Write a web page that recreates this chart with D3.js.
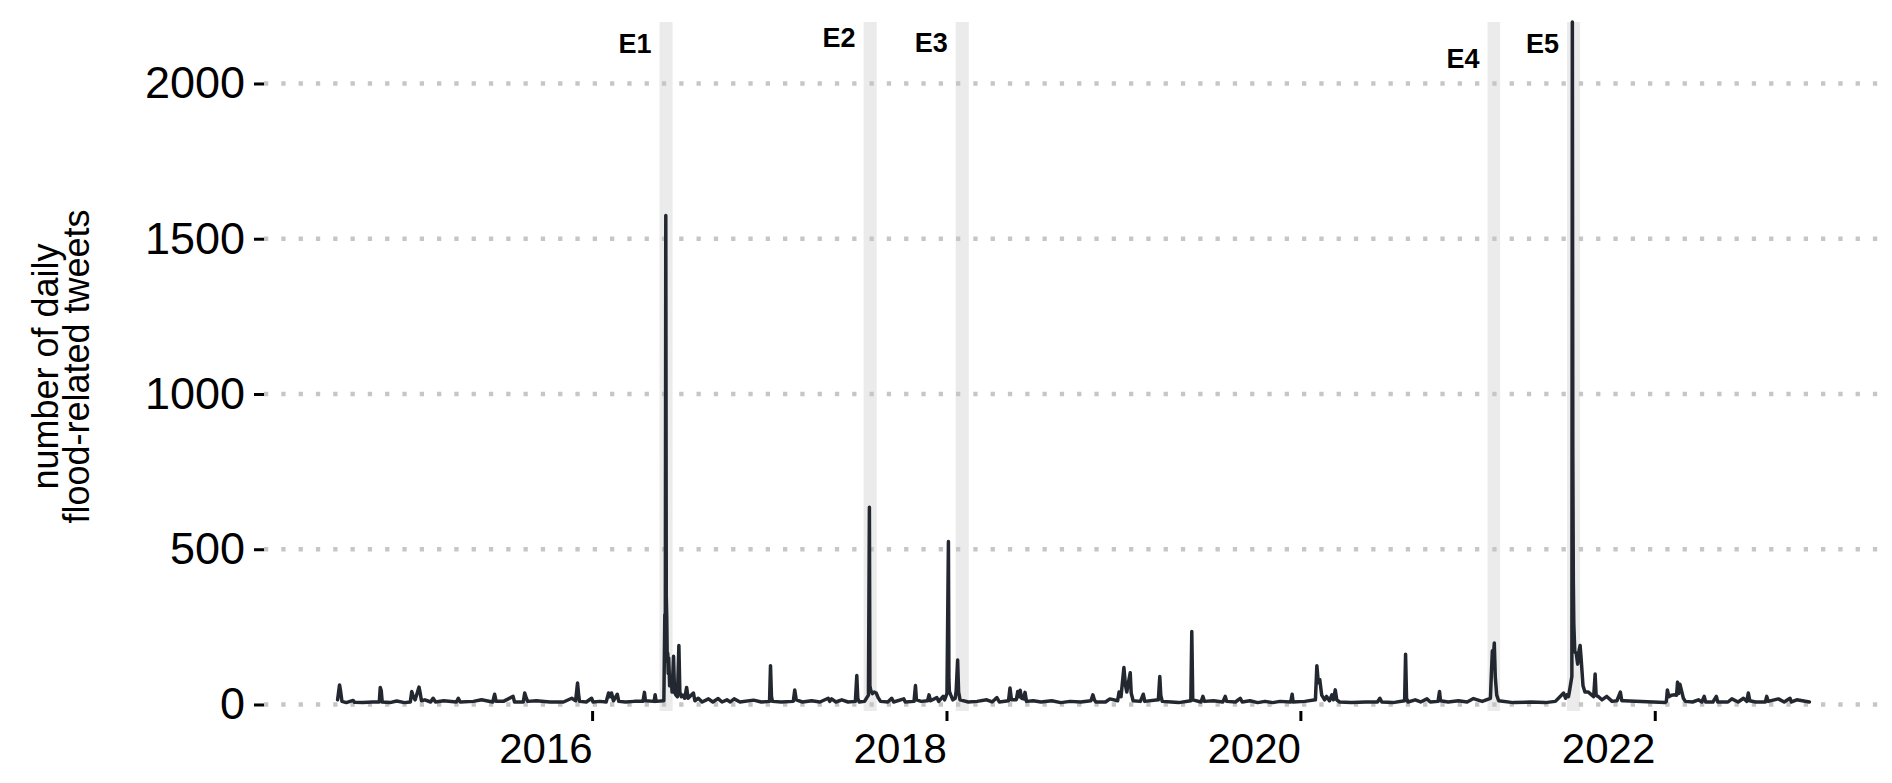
<!DOCTYPE html>
<html lang="en">
<head>
<meta charset="UTF-8">
<title>Daily flood-related tweets</title>
<script src="https://d3js.org/d3.v7.min.js"></script>
<style>
  body { margin: 0; background: #fff; }
  svg { display: block; font-family: 'Liberation Sans', Arial, sans-serif; }
</style>
</head>
<body>
<svg id="chart" width="1892" height="783"></svg>
<script>
// daily counts (peaks plus baseline points between them)
const dates = [
  "2014-07-25","2014-07-29","2014-07-31","2014-08-03","2014-08-12","2014-08-26","2014-08-29","2014-09-15","2014-10-05","2014-10-19",
  "2014-10-21","2014-10-23","2014-10-25","2014-11-10","2014-11-24","2014-12-10","2014-12-22","2014-12-25","2014-12-28","2015-01-01",
  "2015-01-09","2015-01-11","2015-01-14","2015-01-21","2015-02-02","2015-02-07","2015-02-12","2015-03-01","2015-03-27","2015-03-31",
  "2015-04-04","2015-05-01","2015-05-18","2015-05-28","2015-06-10","2015-06-14","2015-06-17","2015-07-02","2015-07-22","2015-07-25",
  "2015-08-12","2015-08-15","2015-08-18","2015-08-21","2015-09-08","2015-10-06","2015-11-03","2015-11-20","2015-11-28","2015-12-02",
  "2015-12-04","2015-12-06","2015-12-20","2015-12-31","2016-01-03","2016-01-17","2016-01-30","2016-02-04","2016-02-07","2016-02-10",
  "2016-02-14","2016-02-22","2016-02-25","2016-03-10","2016-03-28","2016-04-15","2016-04-18","2016-04-20","2016-05-08","2016-05-10",
  "2016-05-12","2016-05-28","2016-05-30","2016-05-31","2016-06-01","2016-06-02","2016-06-03","2016-06-04","2016-06-05","2016-06-06",
  "2016-06-07","2016-06-09","2016-06-12","2016-06-14","2016-06-17","2016-06-19","2016-06-22","2016-06-25","2016-06-28","2016-06-30",
  "2016-07-03","2016-07-06","2016-07-10","2016-07-14","2016-07-17","2016-07-28","2016-07-31","2016-08-07","2016-08-15","2016-08-28",
  "2016-09-06","2016-09-17","2016-09-25","2016-10-05","2016-10-12","2016-10-20","2016-11-01","2016-11-29","2016-12-15","2017-01-01",
  "2017-01-03","2017-01-05","2017-01-07","2017-01-25","2017-02-19","2017-02-22","2017-02-25","2017-03-10","2017-03-29","2017-04-15",
  "2017-05-02","2017-05-05","2017-05-09","2017-05-18","2017-05-30","2017-06-12","2017-06-27","2017-06-30","2017-07-02","2017-07-05",
  "2017-07-16","2017-07-24","2017-07-26","2017-07-27","2017-07-29","2017-08-01","2017-08-05","2017-08-09","2017-08-13","2017-08-18",
  "2017-09-02","2017-09-10","2017-09-14","2017-10-05","2017-10-08","2017-10-26","2017-10-29","2017-10-31","2017-11-10","2017-11-23",
  "2017-11-26","2017-11-29","2017-12-12","2017-12-16","2017-12-25","2017-12-28","2018-01-02","2018-01-05","2018-01-06","2018-01-07",
  "2018-01-10","2018-01-14","2018-01-19","2018-01-21","2018-01-24","2018-01-26","2018-01-29","2018-02-15","2018-03-05","2018-03-25",
  "2018-04-05","2018-04-15","2018-04-20","2018-05-09","2018-05-12","2018-05-15","2018-05-25","2018-05-28","2018-05-31","2018-06-02",
  "2018-06-05","2018-06-09","2018-06-12","2018-06-15","2018-06-29","2018-07-15","2018-08-06","2018-08-25","2018-09-13","2018-10-05",
  "2018-10-26","2018-10-30","2018-11-02","2018-11-05","2018-11-25","2018-12-04","2018-12-20","2018-12-23","2018-12-27","2019-01-02",
  "2019-01-05","2019-01-08","2019-01-10","2019-01-15","2019-01-17","2019-01-21","2019-02-05","2019-02-11","2019-02-14","2019-03-14",
  "2019-03-17","2019-03-19","2019-03-22","2019-04-10","2019-04-25","2019-05-20","2019-05-22","2019-05-24","2019-06-10","2019-06-14",
  "2019-06-17","2019-07-06","2019-07-25","2019-07-30","2019-08-02","2019-08-20","2019-08-30","2019-09-03","2019-09-19","2019-10-05",
  "2019-10-20","2019-11-05","2019-11-20","2019-12-12","2019-12-15","2019-12-17","2020-01-10","2020-02-01","2020-02-04","2020-02-07",
  "2020-02-10","2020-02-14","2020-02-20","2020-02-24","2020-03-01","2020-03-06","2020-03-09","2020-03-13","2020-03-16","2020-03-22",
  "2020-04-15","2020-05-15","2020-06-08","2020-06-13","2020-06-17","2020-07-10","2020-08-03","2020-08-05","2020-08-07","2020-08-10",
  "2020-08-25","2020-09-05","2020-09-18","2020-09-25","2020-10-11","2020-10-14","2020-10-16","2020-11-01","2020-11-22","2020-12-10",
  "2020-12-23","2021-01-10","2021-01-27","2021-01-29","2021-01-31","2021-02-02","2021-02-04","2021-02-06","2021-02-09","2021-02-13",
  "2021-03-15","2021-04-20","2021-05-20","2021-06-10","2021-06-27","2021-07-01","2021-07-04","2021-07-07","2021-07-09","2021-07-14",
  "2021-07-15","2021-07-16","2021-07-17","2021-07-18","2021-07-20","2021-07-23","2021-07-26","2021-07-29","2021-07-31","2021-08-02",
  "2021-08-06","2021-08-10","2021-08-17","2021-08-28","2021-08-31","2021-09-02","2021-09-07","2021-09-14","2021-09-24","2021-10-05",
  "2021-10-15","2021-10-22","2021-10-25","2021-10-29","2022-01-22","2022-01-25","2022-01-27","2022-01-30","2022-02-05","2022-02-09",
  "2022-02-15","2022-02-17","2022-02-19","2022-02-22","2022-03-01","2022-03-05","2022-03-20","2022-04-01","2022-04-08","2022-04-13",
  "2022-04-16","2022-05-01","2022-05-08","2022-05-11","2022-06-01","2022-06-09","2022-06-22","2022-07-03","2022-07-10","2022-07-13",
  "2022-07-16","2022-07-28","2022-08-17","2022-08-20","2022-08-23","2022-09-13","2022-09-25","2022-10-07","2022-10-10","2022-10-21",
  "2022-11-16"
];
const tweets = [
  15, 63, 45, 10, 6, 13, 7, 6, 8, 8,
  55, 45, 8, 6, 11, 6, 8, 42, 25, 15,
  56, 40, 12, 15, 8, 20, 8, 12, 8, 20,
  8, 10, 15, 12, 8, 33, 10, 10, 26, 8,
  8, 37, 22, 10, 12, 8, 8, 20, 12, 69,
  35, 10, 8, 20, 8, 10, 8, 37, 25, 37,
  12, 33, 10, 8, 10, 10, 39, 12, 10, 31,
  10, 12, 290, 230, 1575, 350, 280, 140, 165, 100,
  150, 60, 90, 40, 155, 40, 30, 25, 190, 40,
  25, 30, 20, 55, 20, 37, 12, 20, 8, 18,
  8, 19, 8, 15, 8, 18, 8, 14, 8, 10,
  125, 25, 10, 8, 10, 47, 15, 8, 12, 8,
  20, 10, 18, 8, 15, 8, 10, 93, 20, 8,
  10, 30, 635, 60, 45, 35, 40, 37, 22, 10,
  8, 20, 8, 18, 8, 10, 61, 15, 10, 12,
  31, 12, 22, 10, 26, 15, 35, 525, 80, 42,
  30, 15, 20, 45, 143, 40, 15, 8, 10, 15,
  8, 22, 8, 12, 53, 15, 15, 42, 25, 46,
  20, 18, 39, 10, 12, 8, 12, 6, 10, 8,
  12, 31, 15, 8, 8, 18, 12, 40, 25, 119,
  64, 40, 60, 102, 37, 12, 10, 33, 10, 15,
  90, 30, 10, 8, 6, 12, 235, 15, 8, 26,
  10, 12, 8, 26, 10, 8, 20, 8, 12, 6,
  10, 6, 10, 8, 33, 8, 10, 15, 125, 70,
  80, 30, 15, 26, 12, 31, 15, 47, 15, 8,
  6, 8, 8, 20, 8, 6, 12, 162, 20, 8,
  15, 8, 18, 8, 10, 42, 12, 8, 12, 8,
  19, 10, 20, 100, 173, 150, 198, 90, 30, 12,
  6, 8, 6, 10, 37, 20, 31, 25, 42, 90,
  2198, 800, 400, 260, 170, 165, 130, 175, 190, 150,
  60, 40, 40, 25, 98, 30, 25, 15, 26, 10,
  12, 40, 12, 12, 6, 10, 47, 25, 30, 31,
  30, 72, 35, 65, 20, 10, 8, 15, 8, 26,
  8, 8, 26, 8, 8, 18, 8, 20, 10, 37,
  12, 8, 8, 26, 10, 18, 8, 20, 8, 15,
  8
];

// flood events, shaded windows and their labels
const eventNames = ["E1", "E2", "E3", "E4", "E5"];
const eventStart = ["2016-05-19", "2017-07-14", "2018-01-20", "2021-01-21", "2021-07-04"];
const eventEnd = ["2016-06-15", "2017-08-10", "2018-02-16", "2021-02-16", "2021-07-31"];
const eventLabelY = [2097, 2118, 2102, 2050, 2097];

const yTicks = [0, 500, 1000, 1500, 2000];
const xTickYears = ["2016", "2018", "2020", "2022"];
const yFloor = -21;

const W = 1892, H = 783;
const margin = { top: 22, right: 9, bottom: 72, left: 264 };

const parseDay = d3.utcParse("%Y-%m-%d");
const series = dates.map((d, i) => ({ date: parseDay(d), value: tweets[i] }));
const events = eventNames.map((n, i) => ({
  name: n, start: parseDay(eventStart[i]), end: parseDay(eventEnd[i]), labelY: eventLabelY[i]
}));

const svg = d3.select("#chart");

// x: data range plus 5% on each side, like ggplot
const ext = d3.extent(series, d => d.date);
const pad = (ext[1] - ext[0]) * 0.05;
const x = d3.scaleUtc()
  .domain([new Date(+ext[0] - pad), new Date(+ext[1] + pad)])
  .range([margin.left, W - margin.right]);

const y = d3.scaleLinear()
  .domain([yFloor, d3.max(tweets)])
  .range([H - margin.bottom, margin.top]);

// shaded event windows
svg.append("g")
  .selectAll("rect")
  .data(events)
  .join("rect")
  .attr("x", d => x(d.start))
  .attr("width", d => x(d.end) - x(d.start))
  .attr("y", margin.top)
  .attr("height", H - margin.bottom - margin.top)
  .attr("fill", "#ebebeb");

// dotted horizontal grid
svg.append("g")
  .selectAll("line")
  .data(yTicks)
  .join("line")
  .attr("x1", margin.left)
  .attr("x2", W - margin.right)
  .attr("y1", d => y(d))
  .attr("y2", d => y(d))
  .attr("stroke", "#c6c6c6")
  .attr("stroke-width", 4.3)
  .attr("stroke-dasharray", "4.3 13");

// axes
const yAxis = svg.append("g")
  .attr("transform", `translate(${margin.left},0)`)
  .call(d3.axisLeft(y).tickValues(yTicks).tickFormat(d3.format("d")).tickSize(10).tickPadding(9));

const xAxis = svg.append("g")
  .attr("transform", `translate(0,${H - margin.bottom})`)
  .call(d3.axisBottom(x)
    .tickValues(xTickYears.map(yr => parseDay(yr + "-01-01")))
    .tickFormat(d3.utcFormat("%Y"))
    .tickSize(10).tickPadding(12));

[yAxis, xAxis].forEach(g => {
  g.select(".domain").remove();
  g.selectAll(".tick line").attr("stroke", "#000").attr("stroke-width", 3);
  g.selectAll(".tick text").attr("fill", "#000").attr("font-family", "'Liberation Sans', Arial, sans-serif");
});
yAxis.selectAll(".tick text").attr("font-size", 45);
// year labels end at their tick
xAxis.selectAll(".tick text").attr("font-size", 42).attr("text-anchor", "end").attr("x", 0);

// y title, two lines
const yTitle = svg.append("text")
  .attr("transform", `translate(0,${(margin.top + H - margin.bottom) / 2}) rotate(-90)`)
  .attr("text-anchor", "middle")
  .attr("font-size", 36)
  .attr("fill", "#000");
yTitle.append("tspan").attr("x", 0).attr("y", 58).text("number of daily");
yTitle.append("tspan").attr("x", 0).attr("y", 88.5).text("flood-related tweets");

// the series
const line = d3.line()
  .x(d => x(d.date))
  .y(d => y(d.value));

svg.append("path")
  .datum(series)
  .attr("d", line)
  .attr("fill", "none")
  .attr("stroke", "#232830")
  .attr("stroke-width", 3.5)
  .attr("stroke-linejoin", "round")
  .attr("stroke-linecap", "round");

// event labels, right aligned just left of each window
svg.append("g")
  .selectAll("text")
  .data(events)
  .join("text")
  .attr("x", d => x(d.start) - 8)
  .attr("y", d => y(d.labelY))
  .attr("text-anchor", "end")
  .attr("font-size", 27)
  .attr("font-weight", "bold")
  .attr("fill", "#000")
  .text(d => d.name);
</script>
</body>
</html>
